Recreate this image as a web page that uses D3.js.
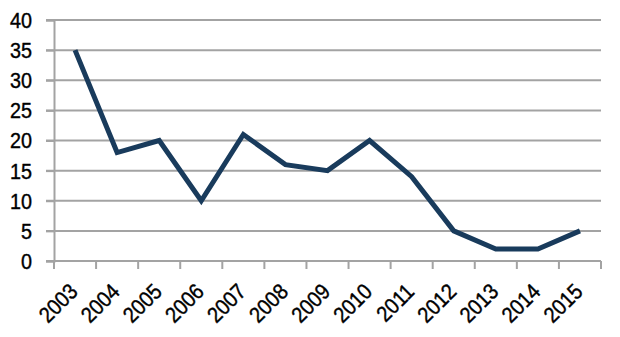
<html>
<head>
  <meta charset="UTF-8" />
  <title>line chart with D3.js</title>
  <script src="https://d3js.org/d3.v7.min.js"></script>
  <style>
    body { margin: 0; background: #ffffff; }
    .lbl { font-family: "Liberation Sans", Arial, sans-serif; font-size: 22px; fill: #000; stroke: #000; stroke-width: 0.4px; }
    .grid line { stroke: #a3a3a3; stroke-width: 2; }
  </style>
</head>
<body>
<div id="chart"></div>
<script>
  var years = ["2003","2004","2005","2006","2007","2008","2009","2010","2011","2012","2013","2014","2015"];
  var values = [35, 18, 20, 10, 21, 16, 15, 20, 14, 5, 2, 2, 5];
  var yTicks = [0, 5, 10, 15, 20, 25, 30, 35, 40];

  var W = 620, H = 337;
  var m = {top: 20, right: 19, bottom: 76, left: 54};
  var w = W - m.left - m.right, h = H - m.top - m.bottom;

  var svg = d3.select("#chart").append("svg")
    .attr("width", W).attr("height", H);
  var g = svg.append("g").attr("transform", "translate(" + m.left + "," + m.top + ")");

  var x = d3.scaleBand().domain(years).range([0, w]);
  var y = d3.scaleLinear().domain([0, 40]).range([h, 0]);

  // horizontal gridlines (with tick stubs to the left)
  g.append("g").attr("class", "grid")
    .selectAll("line").data(yTicks.filter(function(d) { return d > 0; }))
    .enter().append("line")
    .attr("x1", -8).attr("x2", w)
    .attr("y1", function(d) { return y(d); })
    .attr("y2", function(d) { return y(d); });

  // y axis
  var yAxis = g.append("g")
    .call(d3.axisLeft(y).tickValues(yTicks).tickSize(8).tickFormat(""));
  yAxis.select(".domain").attr("stroke", "#a3a3a3").attr("stroke-width", 2);
  yAxis.selectAll(".tick line").attr("stroke", "#a3a3a3").attr("stroke-width", 2);
  g.append("g").selectAll("text").data(yTicks)
    .enter().append("text")
    .attr("class", "lbl")
    .attr("text-anchor", "end")
    .attr("transform", function(d) { return "translate(-22," + y(d) + ") scale(0.9,1)"; })
    .attr("dy", "0.36em")
    .text(function(d) { return d; });

  // x axis: ticks at category boundaries
  var xg = g.append("g")
    .attr("transform", "translate(0," + h + ")");
  xg.append("line").attr("x1", -8).attr("x2", w).attr("y1", 0).attr("y2", 0)
    .attr("stroke", "#a3a3a3").attr("stroke-width", 2);
  xg.selectAll(".xt").data(years.concat(["end"]))
    .enter().append("line")
    .attr("x1", function(d, i) { return i * x.step(); })
    .attr("x2", function(d, i) { return i * x.step(); })
    .attr("y1", 0).attr("y2", 8)
    .attr("stroke", "#a3a3a3").attr("stroke-width", 2);
  xg.selectAll(".xl").data(years)
    .enter().append("text")
    .attr("class", "lbl")
    .attr("text-anchor", "end")
    .attr("transform", function(d) {
      return "translate(" + (x(d) + x.bandwidth() / 2 + 4) + ",32) rotate(-45) scale(0.9,1)";
    })
    .text(function(d) { return d; });

  // line
  var line = d3.line()
    .x(function(d, i) { return x(years[i]) + x.bandwidth() / 2; })
    .y(function(d) { return y(d); });
  g.append("path").datum(values)
    .attr("fill", "none")
    .attr("stroke", "#193b5c")
    .attr("stroke-width", 5)
    .attr("d", line);
</script>
</body>
</html>
